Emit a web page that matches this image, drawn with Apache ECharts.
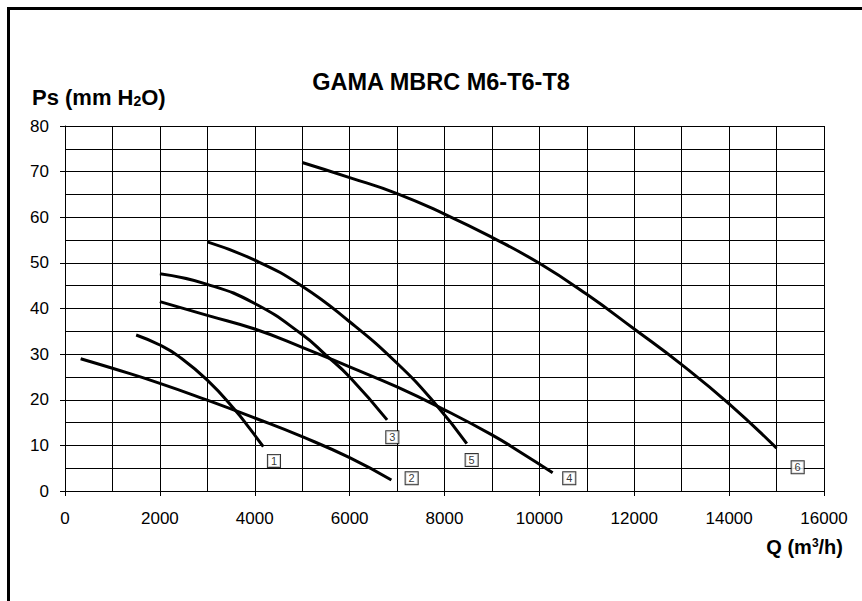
<!DOCTYPE html>
<html>
<head>
<meta charset="utf-8">
<script src="https://cdn.jsdelivr.net/npm/echarts@6/dist/echarts.min.js"></script>
<style>html,body{margin:0;padding:0;background:#fff;}#chart{width:862px;height:601px;}</style>
</head>
<body>
<div id="chart"></div>
<script>
// Curve data (Q in m3/h, Ps in mm H2O)
const curve1X = [1500, 2000, 2400, 3000, 3580, 3900, 4180];
const curve1Y = [34.2, 32.0, 29.5, 24.3, 17.8, 13.6, 9.7];
const curve2X = [330, 1000, 2000, 3000, 4000, 5000, 6000, 6880];
const curve2Y = [29.0, 26.9, 23.6, 19.9, 16.0, 11.9, 7.3, 2.4];
const curve3X = [2000, 3000, 4000, 5000, 5500, 6000, 6790];
const curve3Y = [47.6, 45.3, 41.1, 34.3, 29.8, 25.0, 15.6];
const curve4X = [2000, 3000, 4000, 5000, 6000, 7000, 8000, 9000, 9600, 10280];
const curve4Y = [41.5, 38.5, 35.5, 31.5, 27.2, 22.8, 17.8, 12.3, 8.5, 4.0];
const curve5X = [3000, 4000, 5000, 6000, 7000, 7800, 8470];
const curve5Y = [54.6, 50.6, 44.9, 37.1, 28.0, 19.2, 10.4];
const curve6X = [5000, 6000, 7000, 8000, 9000, 10000, 11000, 12000, 13000, 14000, 15000];
const curve6Y = [72.0, 68.7, 65.2, 60.7, 55.6, 49.9, 43.1, 35.5, 27.7, 19.1, 9.4];

// Curve number tags
const tagNames = ['1', '2', '3', '4', '5', '6'];
const tagX = [4405, 7308, 6900, 10630, 8573, 15445];
const tagY = [6.6, 2.8, 11.8, 2.8, 6.8, 5.2];

const titleText = 'GAMA MBRC M6-T6-T8';
const xName = 'Q (m{sup|3}/h)';
const yName = 'Ps (mm H{sub|2}O)';

const curves = [
  [curve1X, curve1Y], [curve2X, curve2Y], [curve3X, curve3Y],
  [curve4X, curve4Y], [curve5X, curve5Y], [curve6X, curve6Y]
];

const FONT = 'Liberation Sans, Arial, sans-serif';
const chart = echarts.init(document.getElementById('chart'), null, {renderer: 'svg'});

const lineSeries = curves.map((c, i) => ({
  type: 'line',
  name: 'curve' + (i + 1),
  data: c[0].map((x, j) => [x, c[1][j]]),
  smooth: 0.5,
  symbol: 'none',
  lineStyle: {color: '#000', width: 3},
  z: 3,
  silent: true
}));

const tagSeries = {
  type: 'scatter',
  symbolSize: 0,
  data: tagNames.map((n, i) => [tagX[i], tagY[i], n]),
  label: {
    show: true,
    position: 'inside',
    formatter: p => p.data[2],
    fontFamily: FONT,
    fontSize: 11,
    color: '#000',
    backgroundColor: '#fff',
    borderColor: '#000',
    borderWidth: 1,
    padding: [1, 3, 0, 3]
  },
  z: 4,
  silent: true
};

chart.setOption({
  animation: false,
  backgroundColor: '#fff',
  title: {
    text: titleText,
    left: 436,
    top: 65,
    textAlign: 'center',
    textStyle: {fontFamily: FONT, fontSize: 23.5, fontWeight: 'bold', color: '#000'}
  },
  graphic: [{
    type: 'rect',
    shape: {x: 8.5, y: 8.5, width: 1200, height: 1200},
    style: {fill: 'none', stroke: '#000', lineWidth: 3},
    silent: true
  }],
  grid: {left: 65, right: 38, top: 126, bottom: 110},
  xAxis: {
    type: 'value',
    min: 0, max: 16000, interval: 2000,
    name: xName,
    nameLocation: 'end',
    nameGap: 19,
    nameTextStyle: {
      fontFamily: FONT, fontSize: 20, fontWeight: 'bold', color: '#000',
      align: 'right', verticalAlign: 'top', padding: [46, 0, 0, 0],
      rich: {sup: {fontSize: 12, fontWeight: 'bold', fontFamily: FONT, color: '#000', verticalAlign: 'top', lineHeight: 11, padding: [0, 0, 9, 0]}}
    },
    axisLine: {show: true, onZero: false, lineStyle: {color: '#000', width: 1}},
    axisTick: {show: true, length: 5, inside: false, lineStyle: {color: '#000'}},
    minorTick: {show: false, splitNumber: 2},
    axisLabel: {fontFamily: FONT, fontSize: 17, color: '#000', margin: 19, formatter: v => String(v)},
    splitLine: {show: true, lineStyle: {color: '#000', width: 1}},
    minorSplitLine: {show: true, lineStyle: {color: '#000', width: 1}}
  },
  yAxis: {
    type: 'value',
    min: 0, max: 80, interval: 10,
    name: yName,
    nameLocation: 'end',
    nameGap: 18,
    nameTextStyle: {
      fontFamily: FONT, fontSize: 22, fontWeight: 'bold', color: '#000',
      align: 'left', padding: [0, 0, 0, -33],
      rich: {sub: {fontSize: 14, fontWeight: 'bold', fontFamily: FONT, color: '#000', verticalAlign: 'bottom', lineHeight: 14, padding: [10, 0, 0, 0]}}
    },
    axisLine: {show: true, lineStyle: {color: '#000', width: 1}},
    axisTick: {show: true, length: 5, inside: false, lineStyle: {color: '#000'}},
    minorTick: {show: false, splitNumber: 2},
    axisLabel: {fontFamily: FONT, fontSize: 17, color: '#000', margin: 16, formatter: v => String(v)},
    splitLine: {show: true, lineStyle: {color: '#000', width: 1}},
    minorSplitLine: {show: true, lineStyle: {color: '#000', width: 1}}
  },
  series: lineSeries.concat([tagSeries])
});
</script>
</body>
</html>
